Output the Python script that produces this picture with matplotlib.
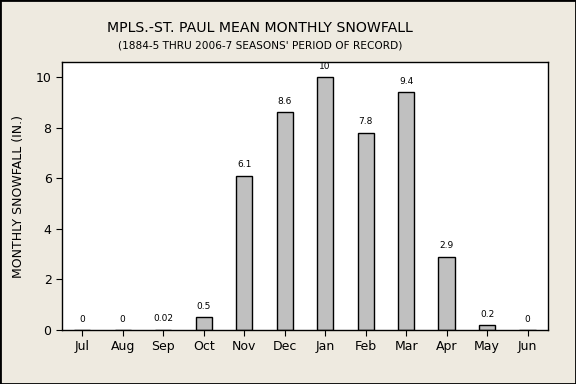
import matplotlib
matplotlib.use("Agg")
import matplotlib.pyplot as plt
import matplotlib.patches as mpatches

months = ['Jul', 'Aug', 'Sep', 'Oct', 'Nov', 'Dec', 'Jan', 'Feb', 'Mar', 'Apr', 'May', 'Jun']
snowfall = [0, 0, 0.02, 0.5, 6.1, 8.6, 10, 7.8, 9.4, 2.9, 0.2, 0]
labels = ['0', '0', '0.02', '0.5', '6.1', '8.6', '10', '7.8', '9.4', '2.9', '0.2', '0']

bg = '#EEEAE0'
fig = plt.figure(figsize=(5.76, 3.84), dpi=100, facecolor=bg)
fig.patches.append(mpatches.Rectangle((0, 0), 1, 1, transform=fig.transFigure,
                                      fill=False, edgecolor='black', linewidth=2))
ax = fig.add_axes([0.1076, 0.1406, 0.8434, 0.6979])

x = range(len(months))
ax.bar(x, snowfall, width=0.4, color='#C0C0C0', edgecolor='black', linewidth=1)
for i, (v, lab) in enumerate(zip(snowfall, labels)):
    ax.text(i, v + 0.25, lab, ha='center', va='bottom', fontsize=6.5)

ax.set_xlim(-0.5, 11.5)
ax.set_ylim(0, 10.59)
ax.set_xticks(list(x))
ax.set_xticklabels(months, fontsize=9)
ax.set_yticks([0, 2, 4, 6, 8, 10])
ax.tick_params(axis='y', labelsize=9)
ax.tick_params(length=4)
ax.set_ylabel('MONTHLY SNOWFALL (IN.)', fontsize=9, labelpad=8)
for s in ax.spines.values():
    s.set_linewidth(1)

fig.text(0.451, 0.927, 'MPLS.-ST. PAUL MEAN MONTHLY SNOWFALL', ha='center', va='center',
         fontsize=10.2, fontweight='medium')
fig.text(0.451, 0.882, "(1884-5 THRU 2006-7 SEASONS' PERIOD OF RECORD)", ha='center', va='center',
         fontsize=7.6)

fig.savefig('out.png', dpi=100, facecolor=bg)
